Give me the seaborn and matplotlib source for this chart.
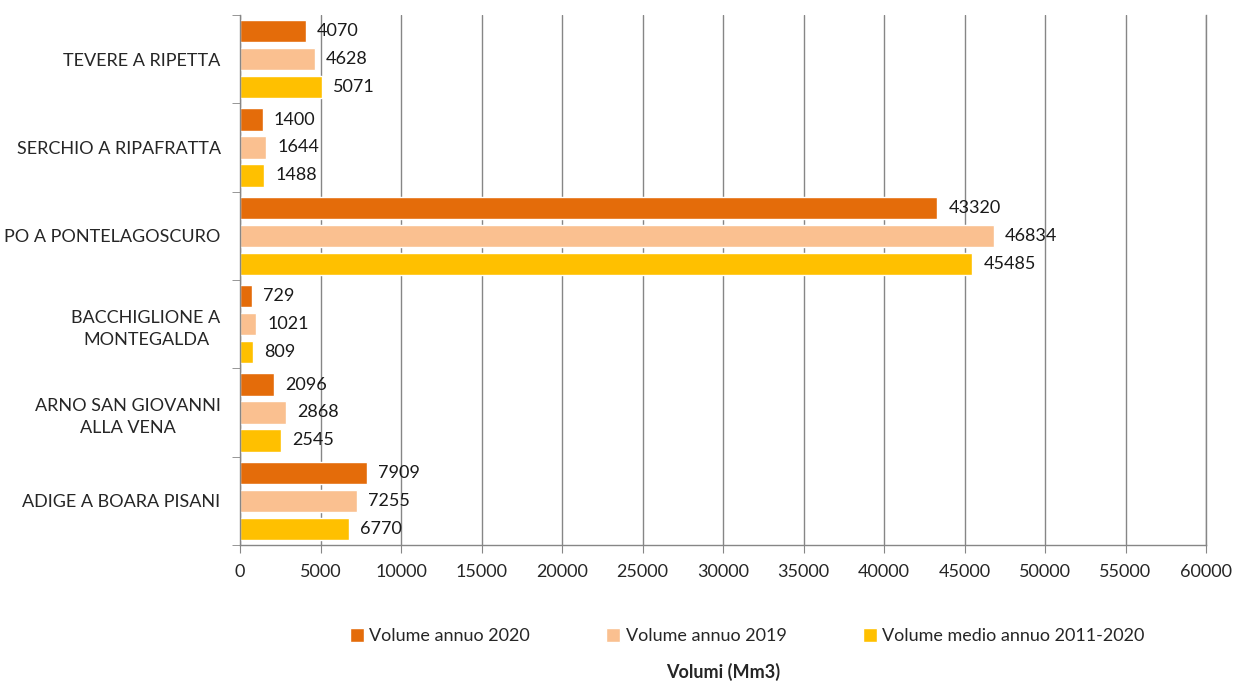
import pandas as pd
import matplotlib.pyplot as plt
import seaborn as sns

# dati
stazioni = ['TEVERE A RIPETTA', 'SERCHIO A RIPAFRATTA', 'PO A PONTELAGOSCURO',
            'BACCHIGLIONE A\nMONTEGALDA', 'ARNO SAN GIOVANNI\nALLA VENA', 'ADIGE A BOARA PISANI']
serie = ['Volume annuo 2020', 'Volume annuo 2019', 'Volume medio annuo 2011-2020']
vol_2020 = [4070, 1400, 43320, 729, 2096, 7909]
vol_2019 = [4628, 1644, 46834, 1021, 2868, 7255]
vol_medio = [5071, 1488, 45485, 809, 2545, 6770]
colori = ['#E46C0A', '#FAC090', '#FFC000']

df = pd.DataFrame({'Stazione': stazioni * 3,
                   'Serie': [s for s in serie for _ in stazioni],
                   'Volume': vol_2020 + vol_2019 + vol_medio})

sns.set_style('white')
plt.rcParams['font.family'] = ['Lato', 'DejaVu Sans']
fs = 13

fig = plt.figure(figsize=(12.35, 6.82), dpi=100)
ax = fig.add_axes([240 / 1235, 1 - 545 / 682, 966 / 1235, 530 / 682])

sns.barplot(data=df, y='Stazione', x='Volume', hue='Serie', orient='h',
            palette=colori, saturation=1, width=0.95, gap=0.2, ax=ax, legend=True)

for c in ax.containers:
    ax.bar_label(c, fmt='%d', padding=8, fontsize=fs, color='#1a1a1a')

ax.set_xlim(0, 60000)
ax.set_xticks(range(0, 60001, 5000))
ax.set_ylim(5.5, -0.5)
ax.grid(axis='x', color='#868686', linewidth=1)
ax.grid(axis='y', visible=False)
ax.set_axisbelow(True)
ax.spines['top'].set_visible(False)
for s in ['left', 'bottom', 'right']:
    ax.spines[s].set_color('#868686')
    ax.spines[s].set_linewidth(1)

ax.tick_params(axis='x', length=6, color='#868686', pad=8, labelsize=fs, bottom=True)
ax.tick_params(axis='y', which='major', length=0, pad=14, labelsize=fs)
ax.set_yticks([i + 0.5 for i in range(-1, 6)], minor=True)
ax.tick_params(axis='y', which='minor', length=6, color='#868686', left=True)
for t in ax.get_yticklabels():
    t.set_multialignment('center')
    t.set_linespacing(1.45)
ax.set_xlabel('')
ax.set_ylabel('')

handles, labels = ax.get_legend_handles_labels()
ax.get_legend().remove()
fig.legend(handles, labels, loc='center', bbox_to_anchor=(0.605, 1 - 636 / 682),
           ncol=3, frameon=False, fontsize=fs, handlelength=0.8, handleheight=0.8,
           handletextpad=0.3, columnspacing=4.2)
fig.text(723 / 1235, 1 - 672 / 682, 'Volumi (Mm3)', ha='center', va='center',
         fontsize=fs, fontweight='bold')

fig.savefig('out.png', dpi=100)
